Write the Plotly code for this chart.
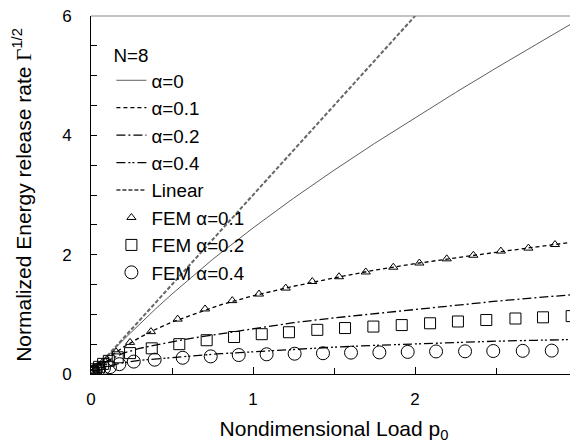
import plotly.graph_objects as go

# ---- data ----
curve_p = [0, 0.05, 0.1, 0.2, 0.3, 0.4, 0.5, 0.6, 0.75, 0.8, 1.0, 1.25, 1.5, 1.75, 2.0, 2.25, 2.5, 2.75, 3.0]
a0_v = [0, 0.149, 0.293, 0.572, 0.839, 1.095, 1.34, 1.577, 1.92, 2.026, 2.448, 2.945, 3.415, 3.864, 4.297, 4.717, 5.127, 5.529, 5.925]
a01_v = [0, 0.14, 0.26, 0.45, 0.61, 0.75, 0.87, 0.97, 1.12, 1.16, 1.31, 1.47, 1.61, 1.74, 1.85, 1.95, 2.04, 2.13, 2.22]
a02_v = [0, 0.13, 0.22, 0.35, 0.43, 0.49, 0.54, 0.59, 0.65, 0.67, 0.75, 0.86, 0.94, 1.01, 1.09, 1.16, 1.22, 1.28, 1.335]
a04_v = [0, 0.09, 0.13, 0.19, 0.23, 0.255, 0.275, 0.295, 0.33, 0.34, 0.375, 0.415, 0.45, 0.48, 0.505, 0.53, 0.55, 0.565, 0.58]

linear_p = [0, 3]
linear_v = [0, 9]

fem01_p = [0.005, 0.015, 0.03, 0.05, 0.07, 0.097, 0.155, 0.241, 0.37, 0.535, 0.704, 0.872, 1.037, 1.202,
           1.366, 1.531, 1.696, 1.866, 2.027, 2.196, 2.36, 2.53, 2.70, 2.864]
fem01_v = [0.015, 0.045, 0.09, 0.14, 0.19, 0.24, 0.37, 0.53, 0.71, 0.92, 1.09, 1.23, 1.34, 1.44,
           1.55, 1.63, 1.71, 1.79, 1.86, 1.93, 1.99, 2.06, 2.11, 2.17]

fem02_p = [0.005, 0.015, 0.03, 0.05, 0.075, 0.11, 0.165, 0.241, 0.375, 0.545, 0.714, 0.883, 1.054, 1.222,
           1.397, 1.568, 1.743, 1.918, 2.093, 2.265, 2.44, 2.62, 2.79, 2.967]
fem02_v = [0.015, 0.04, 0.08, 0.12, 0.17, 0.22, 0.28, 0.35, 0.43, 0.50, 0.566, 0.62, 0.667, 0.70,
           0.74, 0.77, 0.795, 0.82, 0.85, 0.88, 0.905, 0.93, 0.95, 0.97]

fem04_p = [0.005, 0.015, 0.03, 0.05, 0.08, 0.117, 0.175, 0.264, 0.393, 0.566, 0.739, 0.912, 1.084, 1.257,
           1.432, 1.605, 1.78, 1.955, 2.13, 2.309, 2.483, 2.665, 2.844]
fem04_v = [0.015, 0.035, 0.06, 0.08, 0.1, 0.115, 0.165, 0.208, 0.24, 0.272, 0.295, 0.318, 0.33, 0.34,
           0.348, 0.358, 0.362, 0.37, 0.378, 0.38, 0.385, 0.388, 0.392]

LEG = "N=8"

fig = go.Figure()
fig.add_trace(go.Scatter(x=curve_p, y=a0_v, mode="lines", name="α=0",
                         line=dict(color="#333333", width=0.8)))
fig.add_trace(go.Scatter(x=curve_p, y=a01_v, mode="lines", name="α=0.1",
                         line=dict(color="black", width=1.3, dash="4px,3px")))
fig.add_trace(go.Scatter(x=curve_p, y=a02_v, mode="lines", name="α=0.2",
                         line=dict(color="black", width=1.3, dash="9px,3px,2px,3px")))
fig.add_trace(go.Scatter(x=curve_p, y=a04_v, mode="lines", name="α=0.4",
                         line=dict(color="black", width=1.3, dash="9px,3px,2px,2px,2px,3px")))
fig.add_trace(go.Scatter(x=linear_p, y=linear_v, mode="lines", name="Linear",
                         line=dict(color="#666666", width=2, dash="4px,2px")))
fig.add_trace(go.Scatter(x=fem01_p, y=fem01_v, mode="markers", name="FEM α=0.1",
                         marker=dict(symbol="triangle-up-open", size=8, color="black",
                                     line=dict(width=1, color="black"))))
fig.add_trace(go.Scatter(x=fem02_p, y=fem02_v, mode="markers", name="FEM α=0.2",
                         marker=dict(symbol="square-open", size=11, color="black",
                                     line=dict(width=1, color="black"))))
fig.add_trace(go.Scatter(x=fem04_p, y=fem04_v, mode="markers", name="FEM α=0.4",
                         marker=dict(symbol="circle-open", size=13, color="black",
                                     line=dict(width=1, color="black"))))

# The page body adds an 8px offset, so the figure is sized to the visible area.
fig.update_layout(
    width=570, height=435,
    margin=dict(l=83, r=1, t=8, b=69, autoexpand=False),
    paper_bgcolor="white", plot_bgcolor="white",
    font=dict(family="Liberation Sans, Arial, sans-serif", color="black"),
    showlegend=True,
    legend=dict(x=0.042, y=0.941, xanchor="left", yanchor="top",
                bgcolor="rgba(0,0,0,0)", borderwidth=0,
                font=dict(size=18.8, color="black"),
                title=dict(text=LEG, font=dict(size=18.8, color="black"), side="top"),
                itemwidth=30, tracegroupgap=0),
    xaxis=dict(range=[0, 3], dtick=1, tick0=0, ticks="inside", ticklen=7, tickcolor="black",
               showline=True, linecolor="black", linewidth=1, mirror=False,
               showgrid=False, zeroline=False, automargin=False,
               tickfont=dict(size=17, color="black"), ticklabelstandoff=10,
               ticklabeloverflow="allow",
               minor=dict(dtick=0.5, ticks="inside", ticklen=6, tickcolor="black"),
               title=dict(text="Nondimensional Load p<sub>0</sub>", font=dict(size=21, color="black"),
                          standoff=12)),
    yaxis=dict(range=[0, 6], dtick=2, tick0=0, ticks="inside", ticklen=6, tickcolor="black",
               showline=True, linecolor="black", linewidth=1, mirror=True,
               showgrid=False, zeroline=False, automargin=False,
               tickfont=dict(size=17, color="black"), ticklabelstandoff=15,
               ticklabeloverflow="allow",
               minor=dict(dtick=0.5, ticks="inside", ticklen=6, tickcolor="black"),
               title=dict(text="Normalized Energy release rate <span style='font-family:Liberation Serif'>Γ</span><sup>1/2</sup>",
                          font=dict(size=21, color="black"), standoff=24)),
    shapes=[dict(type="line", xref="paper", yref="paper", x0=0, x1=1, y0=1, y1=1,
                 line=dict(color="#888888", width=1))],
)

fig.write_html("out.html")
